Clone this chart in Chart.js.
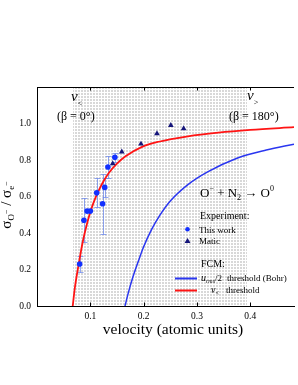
<!DOCTYPE html>
<html><head><meta charset="utf-8">
<script src="https://cdn.jsdelivr.net/npm/chart.js@4/dist/chart.umd.min.js"></script>
<style>html,body{margin:0;padding:0;background:#fff;}#wrap{position:relative;width:298px;height:385px;}</style>
</head><body><div id="wrap"><canvas id="c" width="298" height="385"></canvas></div>
<script>
// ---- data ----
const xTickValues = [0.1, 0.2, 0.3, 0.4];
const yTickValues = [0.0, 0.2, 0.4, 0.6, 0.8, 1.0];
const thisWorkV   = [0.080, 0.088, 0.094, 0.100, 0.112, 0.123, 0.127, 0.133, 0.146];
const thisWorkS   = [0.23, 0.47, 0.52, 0.52, 0.62, 0.56, 0.65, 0.762, 0.815];
const thisWorkErr = [0.045, 0.12, 0, 0, 0.08, 0.165, 0.05, 0.06, 0.025];
const maticV = [0.142, 0.159, 0.195, 0.225, 0.251, 0.275];
const maticS = [0.78, 0.845, 0.888, 0.945, 0.99, 0.972];
const vcV = [0.067, 0.071, 0.0753, 0.080, 0.0864, 0.092, 0.0975, 0.104, 0.110, 0.117, 0.125, 0.135, 0.150, 0.166, 0.197, 0.228, 0.283, 0.340, 0.400, 0.482];
const vcS = [0.0, 0.10, 0.18, 0.26, 0.36, 0.43, 0.49, 0.55, 0.595, 0.64, 0.685, 0.73, 0.78, 0.82, 0.872, 0.9, 0.93, 0.95, 0.965, 0.98];
const bohrV = [0.165, 0.172, 0.180, 0.190, 0.200, 0.215, 0.230, 0.250, 0.283, 0.320, 0.375, 0.430, 0.482];
const bohrS = [0.0, 0.08, 0.16, 0.245, 0.325, 0.42, 0.495, 0.575, 0.665, 0.735, 0.81, 0.855, 0.887];
const shadeRange = [0.0668, 0.393];
const xRange = [0, 0.482];
const yRange = [0, 1.2];

const toPts = (xs, ys) => xs.map((x, i) => ({x: x, y: ys[i]}));
const SERIF = '"Liberation Serif", "Times New Roman", serif';
const RED = '#ff1414', BLUE = '#2a36f0', PT_BLUE = '#1230ff', NAVY = '#15157a', ERR = 'rgba(100,130,235,0.7)';

function font(size, italic) { return (italic ? 'italic ' : '') + size + 'px ' + SERIF; }
function richWidth(ctx, parts) {
  let w = 0;
  parts.forEach(p => { ctx.font = font(p.s, p.i); w += ctx.measureText(p.t).width; });
  return w;
}
function drawRich(ctx, x, y, parts) {
  ctx.textAlign = 'left'; ctx.textBaseline = 'alphabetic';
  parts.forEach(p => {
    ctx.font = font(p.s, p.i);
    ctx.fillText(p.t, x, y + (p.dy || 0));
    x += ctx.measureText(p.t).width;
  });
}

// dotted pattern
const pc = document.createElement('canvas'); pc.width = 3; pc.height = 3;
const pctx = pc.getContext('2d');
pctx.fillStyle = '#ffffff'; pctx.fillRect(0, 0, 3, 3);
pctx.fillStyle = '#d8d8d8'; pctx.fillRect(0, 0, 2, 2);

const decor = {
  id: 'decor',
  beforeDraw(chart) {
    const {ctx, chartArea: a, scales: {x}} = chart;
    const x0 = x.getPixelForValue(shadeRange[0]), x1 = x.getPixelForValue(shadeRange[1]);
    ctx.save();
    ctx.fillStyle = ctx.createPattern(pc, 'repeat');
    ctx.fillRect(Math.round(x0), a.top + 1, Math.round(x1 - x0), a.bottom - a.top - 1);
    ctx.restore();
  },
  beforeDatasetsDraw(chart) {
    const {ctx, scales: {x, y}} = chart;
    ctx.save();
    ctx.strokeStyle = ERR; ctx.lineWidth = 1;
    thisWorkV.forEach((v, i) => {
      const e = thisWorkErr[i]; if (!e) return;
      const px = Math.round(x.getPixelForValue(v)) + 0.5;
      const yt = Math.round(y.getPixelForValue(thisWorkS[i] + e)) + 0.5;
      const yb = Math.round(y.getPixelForValue(thisWorkS[i] - e)) + 0.5;
      ctx.beginPath();
      ctx.moveTo(px, yt); ctx.lineTo(px, yb);
      ctx.moveTo(px - 3, yt); ctx.lineTo(px + 3, yt);
      ctx.moveTo(px - 3, yb); ctx.lineTo(px + 3, yb);
      ctx.stroke();
    });
    ctx.restore();
  },
  afterDraw(chart) {
    const {ctx, chartArea: a, scales: {x}} = chart;
    ctx.save();
    // top frame + inward ticks
    ctx.strokeStyle = '#000'; ctx.lineWidth = 1;
    ctx.beginPath();
    ctx.moveTo(a.left, a.top + 0.5); ctx.lineTo(a.right, a.top + 0.5);
    xTickValues.forEach(v => {
      const px = Math.round(x.getPixelForValue(v)) + 0.5;
      ctx.moveTo(px, a.top); ctx.lineTo(px, a.top + 3.5);
      ctx.moveTo(px, a.bottom); ctx.lineTo(px, a.bottom - 3.5);
    });
    ctx.stroke();

    ctx.fillStyle = '#000';
    // threshold labels
    drawRich(ctx, 71, 101, [{t: 'v', s: 15, i: true}, {t: '<', s: 8, dy: 5}]);
    drawRich(ctx, 57, 120, [{t: '(β = 0°)', s: 12}]);
    drawRich(ctx, 247, 100, [{t: 'v', s: 15, i: true}, {t: '>', s: 8, dy: 5}]);
    drawRich(ctx, 229, 120, [{t: '(β = 180°)', s: 12}]);
    // reaction
    drawRich(ctx, 200, 197, [{t: 'O', s: 13}, {t: '−', s: 8, dy: -6}, {t: ' + N', s: 13}, {t: '2', s: 8, dy: 3}, {t: ' → O', s: 13}, {t: '0', s: 8, dy: -6}]);
    // legend
    drawRich(ctx, 200, 219, [{t: 'Experiment:', s: 10}]);
    ctx.fillStyle = PT_BLUE;
    ctx.beginPath(); ctx.arc(187.5, 229.3, 2.3, 0, Math.PI * 2); ctx.fill();
    ctx.fillStyle = NAVY;
    ctx.beginPath(); ctx.moveTo(187.5, 238); ctx.lineTo(190.5, 243); ctx.lineTo(184.5, 243); ctx.closePath(); ctx.fill();
    ctx.fillStyle = '#000';
    drawRich(ctx, 199, 232.5, [{t: 'This work', s: 9}]);
    drawRich(ctx, 199, 244, [{t: 'Matic', s: 9}]);
    drawRich(ctx, 201, 267, [{t: 'FCM:', s: 10}]);
    ctx.lineWidth = 2;
    ctx.strokeStyle = BLUE; ctx.beginPath(); ctx.moveTo(175, 278.5); ctx.lineTo(197, 278.5); ctx.stroke();
    ctx.strokeStyle = RED; ctx.beginPath(); ctx.moveTo(175, 290.5); ctx.lineTo(197, 290.5); ctx.stroke();
    drawRich(ctx, 201, 281, [{t: 'u', s: 10, i: true}, {t: 'rms', s: 6, i: true, dy: 2}, {t: '/2', s: 9}]);
    drawRich(ctx, 227, 281, [{t: 'threshold (Bohr)', s: 9}]);
    drawRich(ctx, 211, 293, [{t: 'v', s: 10, i: true}, {t: '<', s: 6, dy: 2}]);
    drawRich(ctx, 226, 293, [{t: 'threshold', s: 9}]);

    // axis titles
    ctx.textAlign = 'center';
    ctx.font = font(15.5, false);
    ctx.fillText('velocity (atomic units)', 173, 334);
    const yparts = [{t: 'σ', s: 15}, {t: 'O', s: 9, dy: 3}, {t: '−', s: 8, dy: -2}, {t: ' / ', s: 15}, {t: 'σ', s: 15}, {t: 'e', s: 9, dy: 3}, {t: '−', s: 8, dy: -2}];
    const w = richWidth(ctx, yparts);
    ctx.translate(11, 205); ctx.rotate(-Math.PI / 2);
    drawRich(ctx, -w / 2, 0, yparts);
    ctx.restore();
  }
};

new Chart(document.getElementById('c'), {
  type: 'scatter',
  data: {
    datasets: [
      {label: 'This work', data: toPts(thisWorkV, thisWorkS), pointStyle: 'circle', pointRadius: 2.8, backgroundColor: PT_BLUE, borderWidth: 0},
      {label: 'Matic', data: toPts(maticV, maticS), pointStyle: 'triangle', pointRadius: 3.3, backgroundColor: NAVY, borderColor: NAVY, borderWidth: 0},
      {label: 'v< threshold', data: toPts(vcV, vcS), showLine: true, pointRadius: 0, borderColor: RED, borderWidth: 1.8, cubicInterpolationMode: 'monotone', fill: false},
      {label: 'urms/2 threshold (Bohr)', data: toPts(bohrV, bohrS), showLine: true, pointRadius: 0, borderColor: BLUE, borderWidth: 1.5, cubicInterpolationMode: 'monotone', fill: false}
    ]
  },
  options: {
    responsive: false, animation: false, devicePixelRatio: 1,
    layout: {padding: {top: 87, right: 0, left: 0, bottom: 0}},
    plugins: {legend: {display: false}, tooltip: {enabled: false}},
    scales: {
      x: {
        type: 'linear', min: xRange[0], max: xRange[1],
        afterFit: s => { s.height = 79; },
        grid: {display: false, drawTicks: false},
        border: {display: true, color: '#000', width: 1},
        ticks: {stepSize: 0.1, includeBounds: false, padding: 5, color: '#000', font: {family: SERIF, size: 9.5},
          callback: v => xTickValues.some(t => Math.abs(t - v) < 1e-6) ? v.toFixed(1) : ''}
      },
      y: {
        type: 'linear', min: yRange[0], max: yRange[1],
        afterFit: s => { s.width = 37; },
        grid: {display: false, drawTicks: false},
        border: {display: true, color: '#000', width: 1},
        ticks: {stepSize: 0.2, padding: 6, color: '#000', font: {family: SERIF, size: 9.5},
          callback: v => yTickValues.some(t => Math.abs(t - v) < 1e-6) ? v.toFixed(1) : ''}
      }
    }
  },
  plugins: [decor]
});
</script>
</body></html>
